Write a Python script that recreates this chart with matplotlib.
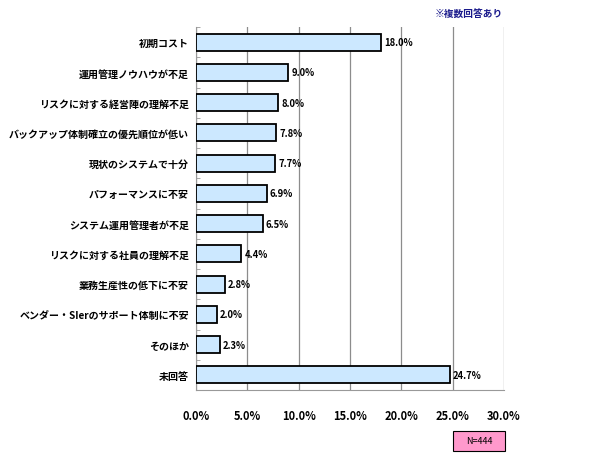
import matplotlib
matplotlib.use("Agg")
import matplotlib.pyplot as plt
import matplotlib.ticker as ticker
from matplotlib.patches import Rectangle

plt.rcParams['font.family'] = ['Noto Sans CJK JP', 'DejaVu Sans']

categories = [
    "初期コスト",
    "運用管理ノウハウが不足",
    "リスクに対する経営陣の理解不足",
    "バックアップ体制確立の優先順位が低い",
    "現状のシステムで十分",
    "パフォーマンスに不安",
    "システム運用管理者が不足",
    "リスクに対する社員の理解不足",
    "業務生産性の低下に不安",
    "ベンダー・SIerのサポート体制に不安",
    "そのほか",
    "未回答",
]
values = [18.0, 9.0, 8.0, 7.8, 7.7, 6.9, 6.5, 4.4, 2.8, 2.0, 2.3, 24.7]
xticks = [0, 5, 10, 15, 20, 25, 30]

W, H = 590, 460
fig = plt.figure(figsize=(W / 100, H / 100), dpi=100)
ax = fig.add_axes([196 / W, 1 - 391 / H, (504 - 196) / W, (391 - 28) / H])

ypos = list(range(len(categories)))
ax.barh(ypos, values, height=0.56, color="#cce8ff", edgecolor="black", linewidth=1.3, zorder=3)

for y, v in zip(ypos, values):
    ax.text(v + 0.3, y, f"{v:.1f}%", va="center", ha="left", fontsize=6.8, fontweight="bold")

ax.set_ylim(len(categories) - 0.5, -0.5)
ax.set_xlim(0, 30)
ax.set_yticks(ypos)
ax.set_yticklabels(categories, fontsize=7.2, fontweight="bold")
ax.tick_params(axis="y", length=0, pad=5)
ax.yaxis.set_minor_locator(ticker.FixedLocator([i + 0.5 for i in range(-1, len(categories))]))
ax.tick_params(axis="y", which="minor", direction="in", length=3, color="#999999")

ax.set_xticks(xticks)
ax.set_xticklabels([f"{t:.1f}%" for t in xticks], fontsize=8, fontweight="bold")
ax.tick_params(axis="x", length=0, pad=14)
ax.grid(axis="x", color="#8c8c8c", linewidth=0.9, zorder=0)

for s in ["top", "right"]:
    ax.spines[s].set_visible(False)
for s in ["left", "bottom"]:
    ax.spines[s].set_color("#999999")

fig.text(503 / W, 1 - 14 / H, "※複数回答あり", ha="right", va="center",
         fontsize=7, fontweight="bold", color="#1a1a8c")

fig.patches.append(Rectangle((453 / W, 1 - 452 / H), 52 / W, 20 / H, transform=fig.transFigure,
                             facecolor="#ff99cc", edgecolor="black", linewidth=0.8))
fig.text(479 / W, 1 - 442 / H, "N=444", ha="center", va="center", fontsize=6.5)

fig.savefig("out.png", dpi=100)
